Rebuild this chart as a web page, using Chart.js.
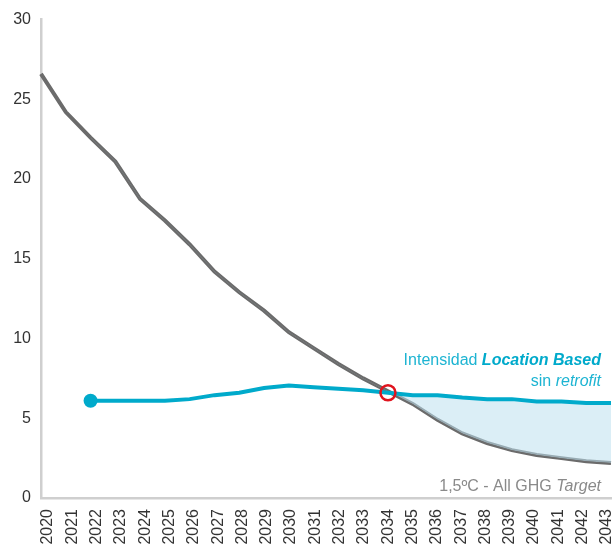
<!DOCTYPE html>
<html>
<head>
<meta charset="utf-8">
<script src="https://cdn.jsdelivr.net/npm/chart.js@4/dist/chart.umd.min.js"></script>
<style>
  html, body { margin: 0; padding: 0; background: #fff; overflow: hidden; }
  #wrap { width: 614px; height: 549px; position: relative; }
  canvas { display: block; }
</style>
</head>
<body>
<div id="wrap"><canvas id="c"></canvas></div>
<script>
// Years on the horizontal axis
const years = ['2020','2021','2022','2023','2024','2025','2026','2027','2028','2029','2030','2031',
               '2032','2033','2034','2035','2036','2037','2038','2039','2040','2041','2042','2043'];

// 1,5ºC - All GHG Target pathway
const targetPath = [26.6, 24.2, 22.6, 21.1, 18.75, 17.4, 15.9, 14.2, 12.9, 11.75, 10.4, 9.4,
                    8.4, 7.5, 6.7, 5.9, 4.9, 4.05, 3.45, 3.0, 2.7, 2.5, 2.3, 2.2];

// Location-based intensity without retrofit (starts in 2022)
const locationBased = [null, null, 6.1, 6.1, 6.1, 6.1, 6.2, 6.45, 6.6, 6.9, 7.05, 6.95,
                       6.85, 6.75, 6.6, 6.45, 6.45, 6.3, 6.2, 6.2, 6.05, 6.05, 5.95, 5.95];

// Crossing point marker
const crossing = [null, null, null, null, null, null, null, null, null, null, null, null,
                  null, null, 6.6, null, null, null, null, null, null, null, null, null];

const yTicks = [0, 5, 10, 15, 20, 25, 30];

const FONT = "'Liberation Sans', Arial, sans-serif";
const BLUE = '#00aacb';
const GRAY = '#6b6b6b';

// Right-aligned labels with mixed styles next to the lines
const labelPlugin = {
  id: 'lineLabels',
  afterDatasetsDraw(chart) {
    const ctx = chart.ctx;
    const right = 601;
    const drawRuns = (runs, y) => {
      let total = 0;
      runs.forEach(r => { ctx.font = r.font; total += ctx.measureText(r.text).width; });
      let x = right - total;
      runs.forEach(r => {
        ctx.font = r.font; ctx.fillStyle = r.color;
        ctx.fillText(r.text, x, y);
        x += ctx.measureText(r.text).width;
      });
    };
    ctx.save();
    ctx.textBaseline = 'alphabetic';
    ctx.textAlign = 'left';
    const lblue = '#1db4d2';
    drawRuns([
      { text: 'Intensidad ', font: `16px ${FONT}`, color: lblue },
      { text: 'Location Based', font: `italic bold 16px ${FONT}`, color: BLUE }
    ], 365);
    drawRuns([
      { text: 'sin ', font: `16px ${FONT}`, color: lblue },
      { text: 'retrofit', font: `italic 16px ${FONT}`, color: lblue }
    ], 386);
    drawRuns([
      { text: '1,5ºC - All GHG ', font: `16px ${FONT}`, color: '#8a8a8a' },
      { text: 'Target', font: `italic 16px ${FONT}`, color: '#8a8a8a' }
    ], 491);
    ctx.restore();
  }
};

const noSidePadding = s => { s.paddingLeft = 0; s.paddingRight = 0; };

new Chart(document.getElementById('c'), {
  type: 'line',
  data: {
    labels: years,
    datasets: [
      {
        label: 'Intensidad Location Based sin retrofit',
        data: locationBased,
        borderColor: BLUE,
        borderWidth: 4,
        tension: 0,
        pointRadius: ctx => ctx.dataIndex === 2 ? 7 : 0,
        pointBackgroundColor: BLUE,
        pointBorderWidth: 0,
        fill: { target: 1, above: 'rgba(190, 224, 238, 0.55)', below: 'rgba(0,0,0,0)' },
        order: 1
      },
      {
        label: '1,5ºC - All GHG Target',
        data: targetPath,
        borderColor: GRAY,
        borderWidth: 4,
        tension: 0,
        pointRadius: 0,
        fill: false,
        order: 2
      },
      {
        label: 'Cruce',
        data: crossing,
        showLine: false,
        pointRadius: 7.5,
        pointBorderWidth: 2.5,
        pointBorderColor: '#e0141e',
        pointBackgroundColor: 'rgba(0,0,0,0)',
        order: 0
      }
    ]
  },
  options: {
    responsive: true,
    maintainAspectRatio: false,
    animation: false,
    layout: { autoPadding: false, padding: { top: 17, right: 3, left: 0, bottom: 0 } },
    plugins: { legend: { display: false }, tooltip: { enabled: false } },
    scales: {
      // data axis: one slot per year, drawn as the baseline only
      x: {
        offset: false,
        grid: { display: false, drawTicks: false },
        border: { display: true, color: '#cfcfcf', width: 2.5 },
        ticks: { display: false },
        afterFit: s => { s.height = 0; noSidePadding(s); }
      },
      // year labels, spaced slightly tighter than the data slots
      xYears: {
        type: 'linear',
        position: 'bottom',
        min: -0.29, max: 23.165,
        afterBuildTicks: s => { s.ticks = years.map((y, i) => ({ value: i })); },
        grid: { display: false, drawTicks: false },
        border: { display: false },
        ticks: {
          autoSkip: false, minRotation: 90, maxRotation: 90, padding: 11,
          color: '#333', font: { family: FONT, size: 16 },
          callback: v => years[v]
        },
        afterFit: s => { s.height = 51; noSidePadding(s); }
      },
      y: {
        min: 0, max: 30,
        afterBuildTicks: s => { s.ticks = yTicks.map(v => ({ value: v })); },
        grid: { display: false, drawTicks: false },
        border: { display: true, color: '#cfcfcf', width: 2.5 },
        ticks: { padding: 10, color: '#333', font: { family: FONT, size: 16 } },
        afterFit: s => { s.width = 41; }
      }
    }
  },
  plugins: [labelPlugin]
});
</script>
</body>
</html>
